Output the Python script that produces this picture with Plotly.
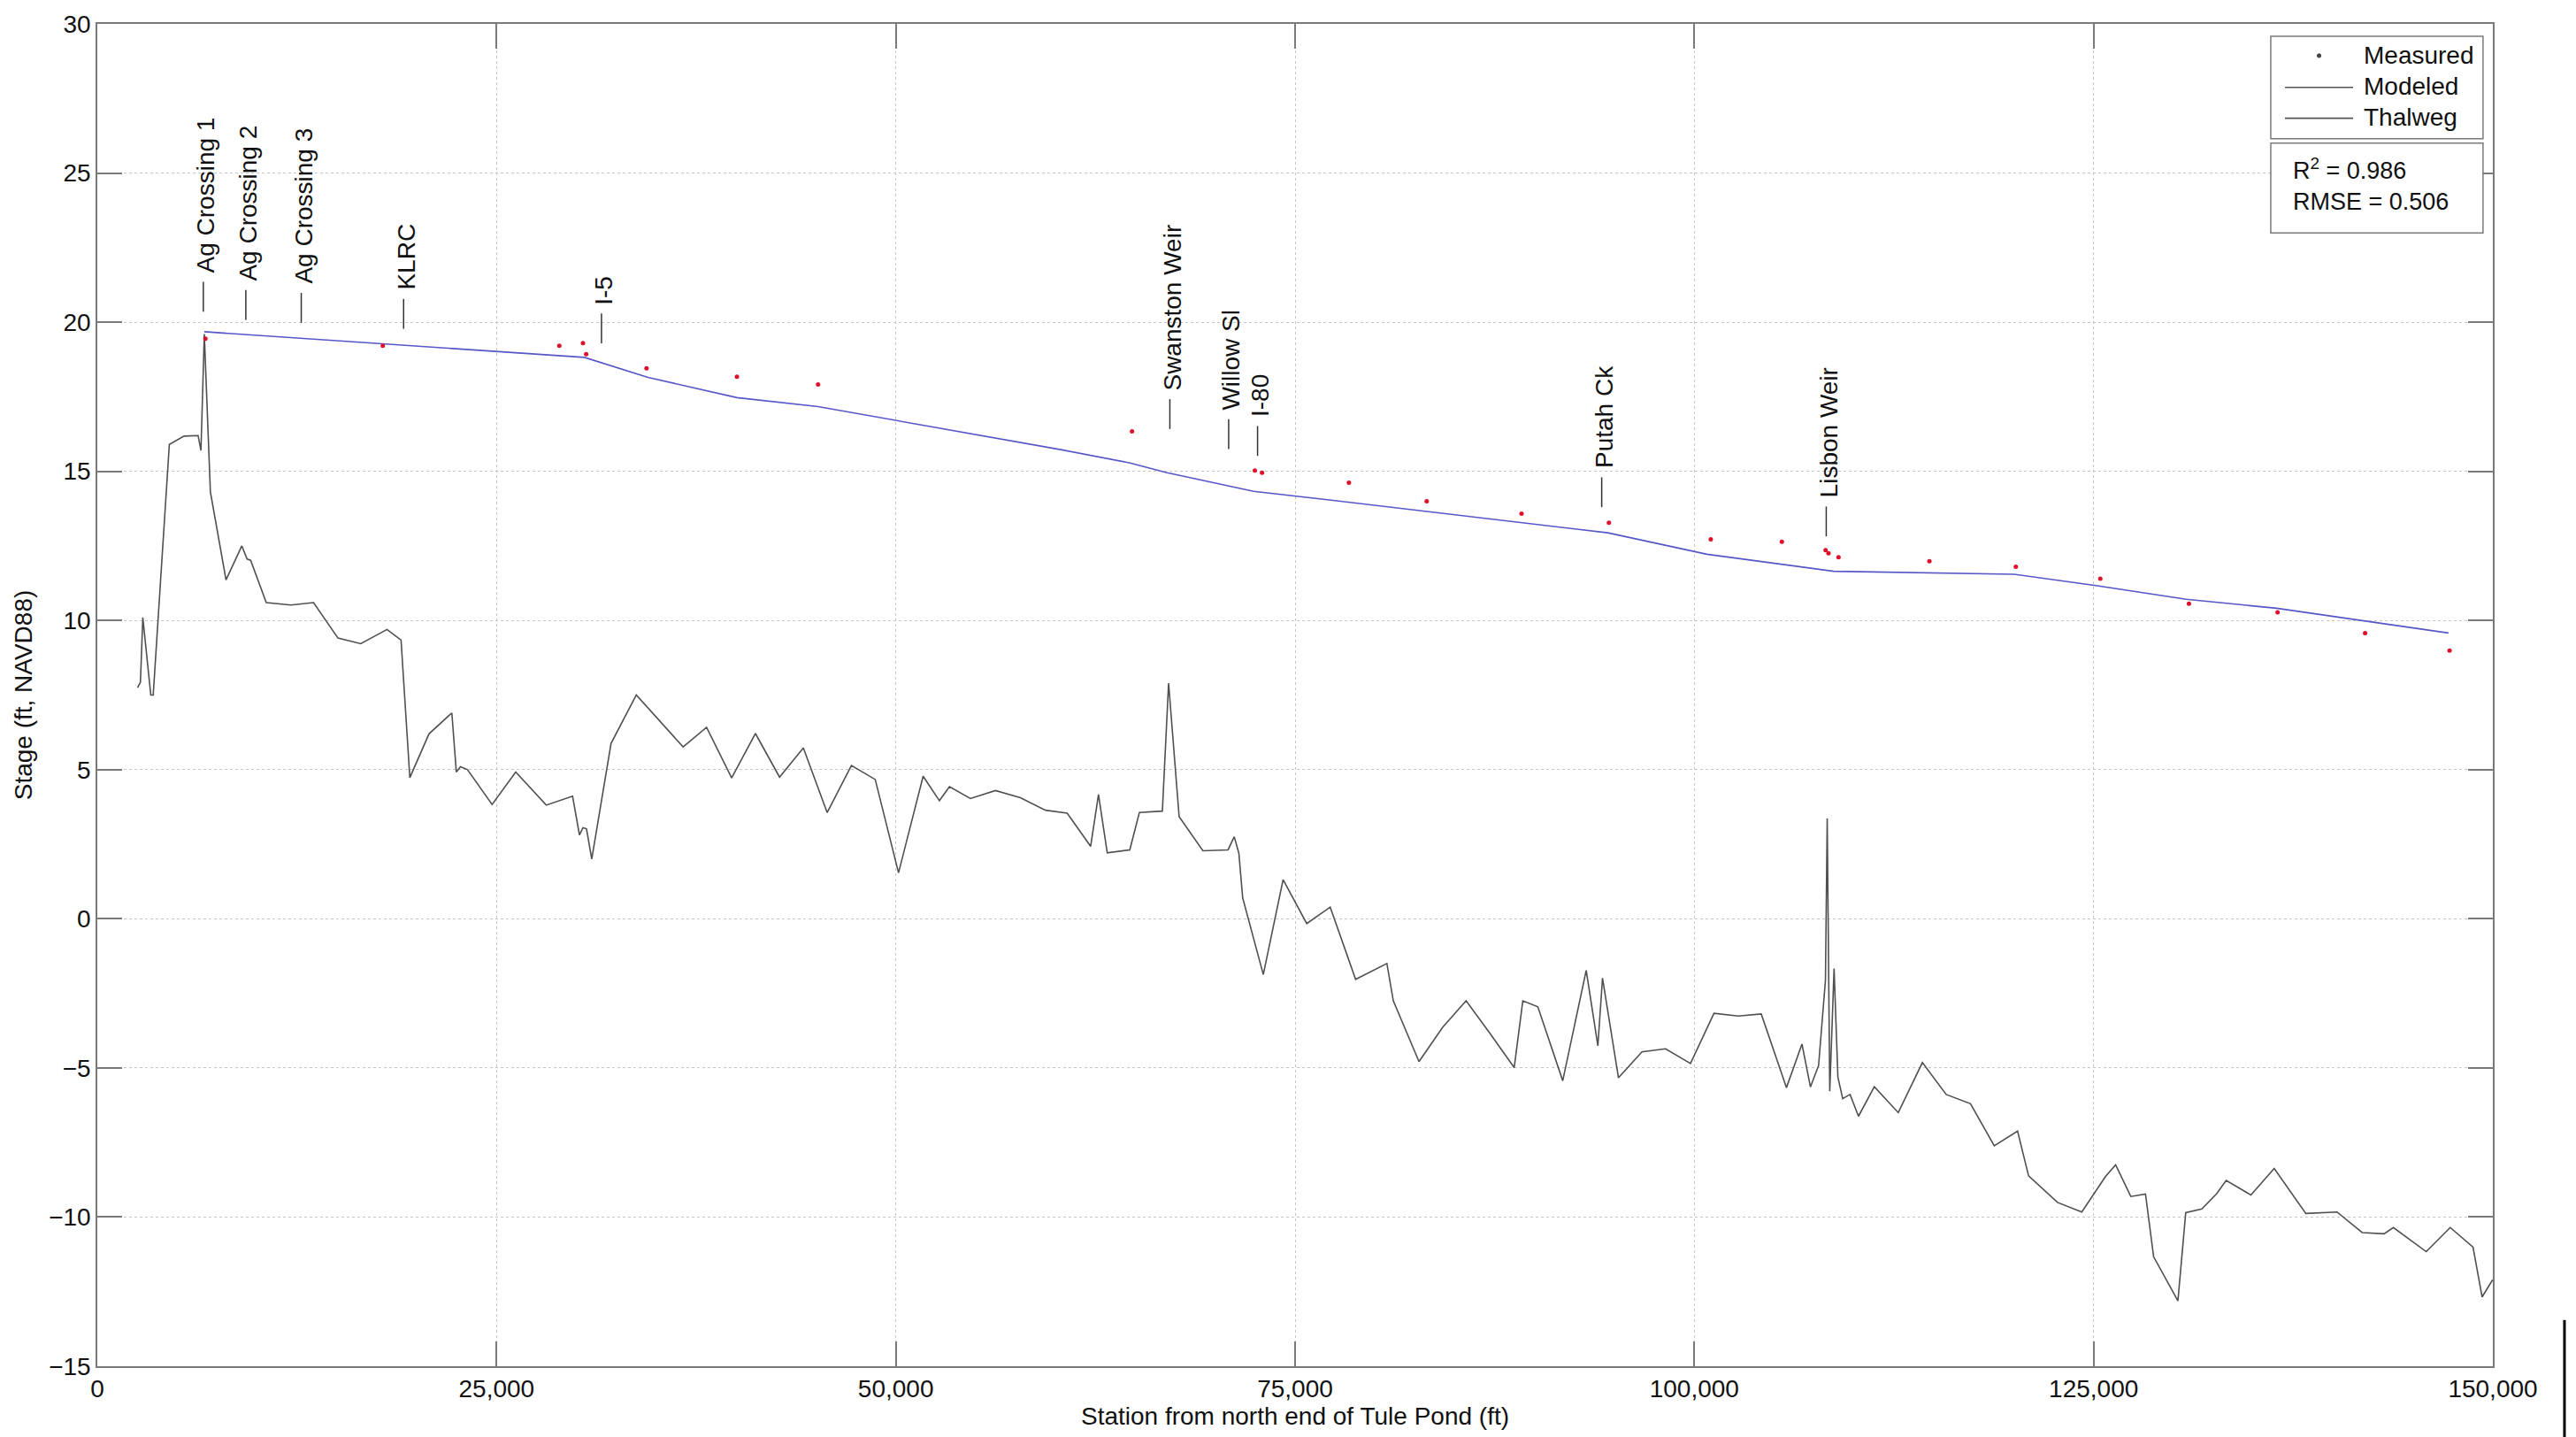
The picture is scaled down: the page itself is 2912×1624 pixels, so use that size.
import plotly.graph_objects as go

# Thalweg (channel bottom) profile along the bypass
thalweg_station = [2520, 2700, 2850, 3350, 3500, 4510, 5430, 6310, 6490, 6700,
                   7080, 8060, 9050, 9380, 9600, 10580, 12120, 13540, 15070, 16500,
                   18140, 19020, 19570, 20770, 22200, 22480, 22740, 23180, 24720, 26200,
                   28110, 29760, 30190, 30410, 30630, 30960, 32170, 33750, 36680, 38150,
                   39720, 41210, 42720, 44210, 45700, 47220, 48710, 50170, 51710, 52730,
                   53360, 54670, 56240, 57800, 59370, 60730, 62200, 62690, 63240, 64650,
                   65250, 66690, 67080, 67740, 69230, 70800, 71190, 71480, 71720, 73010,
                   74250, 75730, 77200, 78790, 80750, 81150, 82760, 84240, 85710, 87190,
                   88720, 89260, 90200, 91760, 93230, 93960, 94250, 95250, 96720, 98200,
                   99760, 101230, 102760, 104190, 105770, 106740, 107270, 107780, 108210, 108320,
                   108480, 108750, 108990, 109290, 109750, 110280, 111270, 112770, 114280, 115770,
                   117290, 118780, 120240, 120930, 122740, 124260, 125750, 126380, 127330, 128250,
                   128760, 130280, 130770, 131780, 132720, 133300, 134850, 136310, 138290, 140240,
                   141820, 143190, 143770, 145830, 147330, 148760, 149330, 149990]
thalweg_elev = [7.75, 7.93, 10.1, 7.5, 7.5, 15.9, 16.18, 16.2, 15.7, 19.6,
                14.31, 11.36, 12.5, 12.06, 12.02, 10.6, 10.52, 10.6, 9.41, 9.22,
                9.7, 9.34, 4.73, 6.2, 6.9, 4.92, 5.1, 5.0, 3.83, 4.92,
                3.81, 4.11, 2.81, 3.05, 3.02, 2.0, 5.88, 7.5, 5.76, 6.42,
                4.72, 6.21, 4.75, 5.73, 3.56, 5.14, 4.67, 1.54, 4.78, 3.96,
                4.43, 4.03, 4.30, 4.06, 3.64, 3.54, 2.43, 4.17, 2.21, 2.31,
                3.56, 3.61, 7.90, 3.42, 2.28, 2.31, 2.75, 2.2, 0.7, -1.87,
                1.31, -0.16, 0.39, -2.03, -1.50, -2.75, -4.79, -3.64, -2.75, -3.83,
                -4.99, -2.75, -2.95, -5.43, -1.73, -4.26, -1.99, -5.33, -4.46, -4.36,
                -4.85, -3.17, -3.26, -3.19, -5.66, -4.20, -5.64, -4.92, -2.06, 3.36,
                -5.78, -1.67, -5.31, -6.03, -5.89, -6.62, -5.63, -6.50, -4.82, -5.89,
                -6.20, -7.61, -7.12, -8.62, -9.51, -9.83, -8.64, -8.25, -9.31, -9.23,
                -11.33, -12.81, -9.85, -9.73, -9.21, -8.77, -9.26, -8.37, -9.88, -9.83,
                -10.52, -10.56, -10.35, -11.16, -10.35, -11.01, -12.68, -12.10]

# Modeled water surface
modeled_station = [6700, 30500, 34480, 40050, 45130, 60400, 64670, 66930, 72400, 77020,
                   94580, 100790, 108730, 120020, 125140, 130800, 136450, 141920, 147220]
modeled_stage = [19.68, 18.82, 18.15, 17.47, 17.17, 15.72, 15.28, 14.96, 14.33, 14.05,
                 12.94, 12.22, 11.65, 11.55, 11.17, 10.71, 10.41, 9.99, 9.58]

# Measured high-water marks
measured_station = [6770, 17875, 28930, 30410, 30610, 34390, 40050, 45130, 64790, 72480,
                    72930, 78370, 83240, 89180, 94650, 101030, 105480, 108220, 108400, 109030,
                    114720, 120130, 125420, 130970, 136520, 142000, 147290]
measured_stage = [19.45, 19.21, 19.21, 19.30, 18.93, 18.45, 18.17, 17.91, 16.34, 15.03,
                  14.95, 14.62, 14.00, 13.58, 13.28, 12.72, 12.64, 12.36, 12.25, 12.12,
                  11.99, 11.80, 11.40, 10.56, 10.27, 9.58, 8.99]

# Landmarks along the profile (station, elevation at foot of leader line)
landmark_names = ["Ag Crossing 1", "Ag Crossing 2", "Ag Crossing 3", "KLRC", "I-5",
                  "Swanston Weir", "Willow Sl", "I-80", "Putah Ck", "Lisbon Weir"]
landmark_station = [6640, 9300, 12770, 19180, 31570, 67160, 70840, 72650, 94200, 108260]
landmark_base = [20.35, 20.08, 19.98, 19.78, 19.29, 16.42, 15.75, 15.52, 13.80, 12.82]
leader_length = 1.0

legend_labels = ["Measured", "Modeled", "Thalweg"]
fit_stats = {"R2": "0.986", "RMSE": "0.506"}

FONT = "Liberation Sans, Arial, sans-serif"
AXIS_GREY = "#7a7a7a"
LINE_GREY = "#505050"
TEXT = "#111111"

fig = go.Figure()

fig.add_trace(go.Scatter(x=thalweg_station, y=thalweg_elev, mode="lines", name="Thalweg",
                         line=dict(color=LINE_GREY, width=1.6), showlegend=False))
fig.add_trace(go.Scatter(x=modeled_station, y=modeled_stage, mode="lines", name="Modeled",
                         line=dict(color="#5656c8", width=1.6), showlegend=False))
fig.add_trace(go.Scatter(x=measured_station, y=measured_stage, mode="markers", name="Measured",
                         marker=dict(color="#e0102a", size=5), showlegend=False))

shapes = []
annotations = []
for name, st, base in zip(landmark_names, landmark_station, landmark_base):
    shapes.append(dict(type="line", xref="x", yref="y", x0=st, x1=st,
                       y0=base, y1=base + leader_length,
                       line=dict(color="#333333", width=1.5)))
    annotations.append(dict(x=st, y=base + leader_length, xref="x", yref="y",
                            text=name, textangle=-90, showarrow=False,
                            xanchor="center", yanchor="bottom", yshift=8, xshift=3,
                            font=dict(family=FONT, size=28, color=TEXT)))

# Key box in the upper-right corner of the axes (paper coordinates)
KEY_X0, KEY_X1 = 0.9073, 0.9959
shapes.append(dict(type="rect", xref="paper", yref="paper",
                   x0=KEY_X0, x1=KEY_X1, y0=0.9145, y1=0.9908,
                   line=dict(color=AXIS_GREY, width=1.5), fillcolor="white", layer="above"))
key_rows = [0.9763, 0.9527, 0.9297]
glyph_x0, glyph_x1 = 0.9132, 0.9417
# marker glyph for the measured points
dot_cx, dot_r = (glyph_x0 + glyph_x1) / 2, 0.0008
shapes.append(dict(type="circle", xref="paper", yref="paper",
                   x0=dot_cx - dot_r, x1=dot_cx + dot_r,
                   y0=key_rows[0] - dot_r * 1.78, y1=key_rows[0] + dot_r * 1.78,
                   line=dict(color="#444444", width=1), fillcolor="#444444", layer="above"))
for row in key_rows[1:]:
    shapes.append(dict(type="line", xref="paper", yref="paper",
                       x0=glyph_x0, x1=glyph_x1, y0=row, y1=row,
                       line=dict(color="#555555", width=1.6), layer="above"))
for label, row in zip(legend_labels, key_rows):
    annotations.append(dict(x=0.9453, y=row + 0.0005, xref="paper", yref="paper",
                            xanchor="left", yanchor="middle", showarrow=False,
                            text=label, font=dict(family=FONT, size=28, color=TEXT)))

# statistics box
shapes.append(dict(type="rect", xref="paper", yref="paper",
                   x0=KEY_X0, x1=KEY_X1, y0=0.8442, y1=0.9112,
                   line=dict(color=AXIS_GREY, width=1.5), fillcolor="white", layer="above"))
annotations.append(dict(x=0.9158, y=0.8806, xref="paper", yref="paper",
                        xanchor="left", yanchor="middle", align="left", showarrow=False,
                        text=f"R<sup>2</sup> = {fit_stats['R2']}<br>RMSE = {fit_stats['RMSE']}",
                        font=dict(family=FONT, size=27, color=TEXT)))

# page edge mark at the lower right
shapes.append(dict(type="line", xref="paper", yref="paper",
                   x0=1.0299, x1=1.0299, y0=0.0344, y1=-0.06,
                   line=dict(color="black", width=3)))

axis_common = dict(showline=True, linecolor=AXIS_GREY, linewidth=1.5, mirror="ticks",
                   ticks="inside", ticklen=28, tickwidth=1.5, tickcolor=AXIS_GREY,
                   showgrid=True, gridcolor="#c4c4c4", griddash="dot", gridwidth=1,
                   zeroline=False,
                   tickfont=dict(family=FONT, size=28, color=TEXT))

fig.update_layout(
    width=2912, height=1624,
    margin=dict(l=110, r=94, t=23, b=80),
    paper_bgcolor="white", plot_bgcolor="white",
    font=dict(family=FONT, size=28, color=TEXT),
    showlegend=False,
    xaxis=dict(range=[0, 150000], tick0=0, dtick=25000, tickformat=",d",
               title=dict(text="Station from north end of Tule Pond (ft)",
                          font=dict(family=FONT, size=28), standoff=6),
               **axis_common),
    yaxis=dict(range=[-15, 30], tick0=-15, dtick=5,
               title=dict(text="Stage (ft, NAVD88)",
                          font=dict(family=FONT, size=28), standoff=10),
               **axis_common),
    shapes=shapes,
    annotations=annotations,
)

fig.write_html("out.html")
